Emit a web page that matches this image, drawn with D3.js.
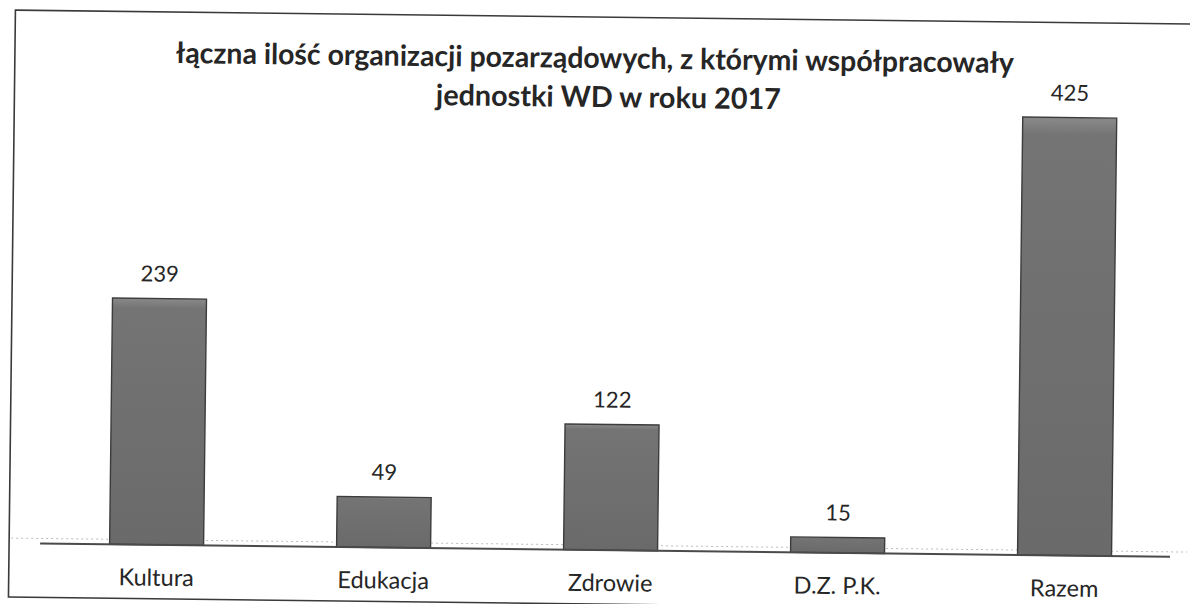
<!DOCTYPE html>
<html>
<head>
<meta charset="utf-8">
<script src="https://cdn.jsdelivr.net/npm/d3@7"></script>
<style>
  html, body { margin: 0; padding: 0; background: #ffffff; }
  svg { display: block; }
</style>
</head>
<body>
<svg id="chart" width="1190" height="604"></svg>
<script>
// ---- data ----
const titleLines = ["łączna ilość organizacji pozarządowych, z którymi współpracowały", "jednostki WD w roku 2017"];
const categories = ["Kultura", "Edukacja", "Zdrowie", "D.Z. P.K.", "Razem"];
const values = [239, 49, 122, 15, 425];

// ---- layout ----
const W = 1190, H = 604;
const svg = d3.select("#chart");
const root = svg.append("g").attr("transform", `rotate(0.68, ${W/2}, ${H/2})`);

const font = "Lato, 'Open Sans', sans-serif";
const baseY = 550;

const x = d3.scaleBand().domain(categories).range([46, 1181]).paddingInner(0.586).paddingOuter(0.293);
const y = d3.scaleLinear().domain([0, 425]).range([baseY, 112]);

// frame
root.append("rect")
  .attr("x", 12).attr("y", 17).attr("width", 1200).attr("height", 587)
  .attr("fill", "none").attr("stroke", "#3a3a3a").attr("stroke-width", 1.6);

// title
const title = root.append("g").attr("font-family", font).attr("font-weight", 700)
  .attr("fill", "#262626").attr("text-anchor", "middle");
title.append("text").attr("x", 592).attr("y", 68).attr("font-size", 29)
  .attr("textLength", 838).attr("lengthAdjust", "spacingAndGlyphs").text(titleLines[0]);
title.append("text").attr("x", 606).attr("y", 107).attr("font-size", 29)
  .attr("textLength", 345).attr("lengthAdjust", "spacingAndGlyphs").text(titleLines[1]);

// faint dotted line above baseline
root.append("line")
  .attr("x1", 14).attr("x2", 1190).attr("y1", baseY - 5).attr("y2", baseY - 5)
  .attr("stroke", "#bdbdbd").attr("stroke-width", 1).attr("stroke-dasharray", "2,3");

// gradient for bars
const defs = svg.append("defs");
const grad = defs.append("linearGradient").attr("id", "barGrad").attr("x1", 0).attr("x2", 0).attr("y1", 0).attr("y2", 1);
grad.append("stop").attr("offset", "0%").attr("stop-color", "#8a8a8a");
grad.append("stop").attr("offset", "4%").attr("stop-color", "#747474");
grad.append("stop").attr("offset", "100%").attr("stop-color", "#6a6a6a");

// bars
root.append("g").selectAll("rect").data(categories).join("rect")
  .attr("x", d => x(d))
  .attr("width", x.bandwidth())
  .attr("y", (d, i) => y(values[i]))
  .attr("height", (d, i) => y(0) - y(values[i]))
  .attr("fill", "url(#barGrad)")
  .attr("stroke", "#3c3c3c").attr("stroke-width", 1.4);

// baseline
root.append("line")
  .attr("x1", 43).attr("x2", 1173).attr("y1", baseY).attr("y2", baseY)
  .attr("stroke", "#4a4a4a").attr("stroke-width", 2);

// value labels
root.append("g").selectAll("text").data(categories).join("text")
  .attr("x", d => x(d) + x.bandwidth() / 2)
  .attr("y", (d, i) => y(values[i]) - 17)
  .attr("text-anchor", "middle")
  .attr("font-family", font).attr("font-size", 22).attr("fill", "#262626")
  .text((d, i) => values[i]);

// category labels
const xAxis = d3.axisBottom(x).tickSize(0).tickPadding(0);
const ax = root.append("g").attr("transform", `translate(0, ${baseY})`).call(xAxis);
ax.select(".domain").remove();
ax.selectAll("text")
  .attr("y", 41).attr("dy", null)
  .attr("font-family", font).attr("font-size", 23.5).attr("fill", "#262626");
</script>
</body>
</html>
